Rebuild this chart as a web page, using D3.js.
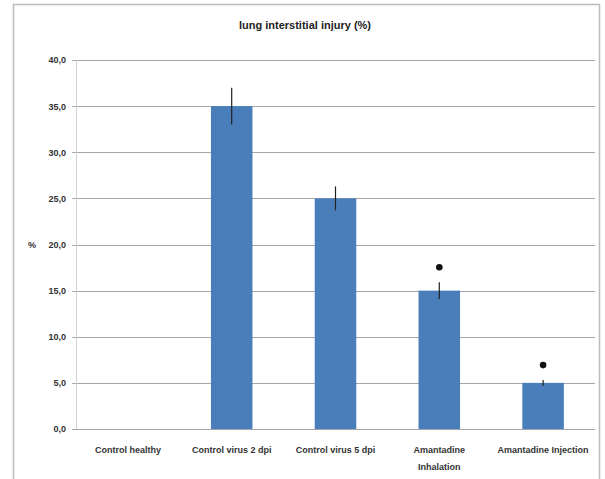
<!DOCTYPE html>
<html>
<head>
<meta charset="utf-8">
<script src="https://cdn.jsdelivr.net/npm/d3@7"></script>
<style>
  body { margin: 0; background: #fff; }
  text { font-family: "Liberation Sans Narrow", "Liberation Sans", Arial, sans-serif; }
  .tick text { font-size: 9px; font-weight: bold; fill: #333; }
</style>
</head>
<body>
<svg id="chart" width="605" height="479"></svg>
<script>
  // Data
  var CATEGORIES = [
    ["Control healthy"],
    ["Control virus 2 dpi"],
    ["Control virus 5 dpi"],
    ["Amantadine", "Inhalation"],
    ["Amantadine Injection"]
  ];
  var VALUES = [0, 35, 25, 15, 5];
  var ERRORS = [0, 2.0, 1.3, 0.9, 0.3];
  var STARRED = [false, false, false, true, true];
  var Y_TICKS = [0, 5, 10, 15, 20, 25, 30, 35, 40];
  var TITLE = "lung interstitial injury (%)";

  var LEFT = 76, RIGHT = 595, TOP = 60, BOTTOM = 429;

  var svg = d3.select("#chart");

  // outer frame (left + top + right edges)
  svg.append("path")
    .attr("d", "M13.5,479 V4.5 H599.5 V479")
    .attr("fill", "none")
    .attr("stroke", "#bdbdbd")
    .attr("stroke-width", 1.5);

  var x = d3.scaleBand()
    .domain(d3.range(CATEGORIES.length))
    .range([LEFT, RIGHT]);

  var y = d3.scaleLinear()
    .domain([0, 40])
    .range([BOTTOM, TOP]);

  var fmt = function (d) { return d3.format(".1f")(d).replace(".", ","); };

  // gridlines
  svg.append("g")
    .selectAll("line")
    .data(Y_TICKS)
    .join("line")
      .attr("x1", LEFT - 4)
      .attr("x2", RIGHT)
      .attr("y1", function (d) { return Math.round(y(d)) + 0.5; })
      .attr("y2", function (d) { return Math.round(y(d)) + 0.5; })
      .attr("stroke", "#a6a6a6")
      .attr("stroke-width", 1.2);

  // y axis
  var yAxis = svg.append("g")
    .attr("transform", "translate(" + (LEFT - 4) + ",0)")
    .call(d3.axisLeft(y).tickValues(Y_TICKS).tickFormat(fmt).tickSize(0).tickPadding(6));
  yAxis.select(".domain").remove();

  svg.append("line")
    .attr("x1", LEFT + 0.5).attr("x2", LEFT + 0.5)
    .attr("y1", TOP).attr("y2", BOTTOM)
    .attr("stroke", "#d0d0d0");

  svg.append("text")
    .attr("x", 32)
    .attr("y", y(20) + 3)
    .attr("text-anchor", "middle")
    .style("font-size", "9px")
    .style("font-weight", "bold")
    .attr("fill", "#333")
    .text("%");

  // bars
  var bw = x.bandwidth() * 0.4;
  svg.append("g")
    .selectAll("rect")
    .data(VALUES)
    .join("rect")
      .attr("x", function (d, i) { return x(i) + (x.bandwidth() - bw) / 2; })
      .attr("y", function (d) { return y(d); })
      .attr("width", bw)
      .attr("height", function (d) { return y(0) - y(d); })
      .attr("fill", "#4a7ebb");

  // error bars
  svg.append("g")
    .selectAll("line")
    .data(VALUES)
    .join("line")
      .attr("x1", function (d, i) { return x(i) + x.bandwidth() / 2; })
      .attr("x2", function (d, i) { return x(i) + x.bandwidth() / 2; })
      .attr("y1", function (d, i) { return y(d + ERRORS[i]); })
      .attr("y2", function (d, i) { return y(d - ERRORS[i]); })
      .attr("stroke", function (d, i) { return ERRORS[i] > 0 ? "#222" : "none"; })
      .attr("stroke-width", 1.2);

  // significance markers
  svg.append("g")
    .selectAll("circle")
    .data(VALUES.map(function (v, i) { return {v: v, i: i}; }).filter(function (d) { return STARRED[d.i]; }))
    .join("circle")
      .attr("cx", function (d) { return x(d.i) + x.bandwidth() / 2; })
      .attr("cy", function (d) { return y(d.v + ERRORS[d.i]) - 15; })
      .attr("r", 3.3)
      .attr("fill", "#111");

  // category labels
  var labels = svg.append("g")
    .selectAll("text")
    .data(CATEGORIES)
    .join("text")
      .attr("x", function (d, i) { return x(i) + x.bandwidth() / 2; })
      .attr("y", 453)
      .attr("text-anchor", "middle")
      .style("font-size", "9px")
      .style("font-weight", "bold")
      .attr("fill", "#333");
  labels.selectAll("tspan")
    .data(function (d) { return d; })
    .join("tspan")
      .attr("x", function () { return d3.select(this.parentNode).attr("x"); })
      .attr("dy", function (d, j) { return j === 0 ? 0 : 17; })
      .text(function (d) { return d; });

  // title
  svg.append("text")
    .attr("x", 305)
    .attr("y", 29)
    .attr("text-anchor", "middle")
    .style("font-size", "11px")
    .style("font-weight", "bold")
    .attr("fill", "#222")
    .text(TITLE);
</script>
</body>
</html>
